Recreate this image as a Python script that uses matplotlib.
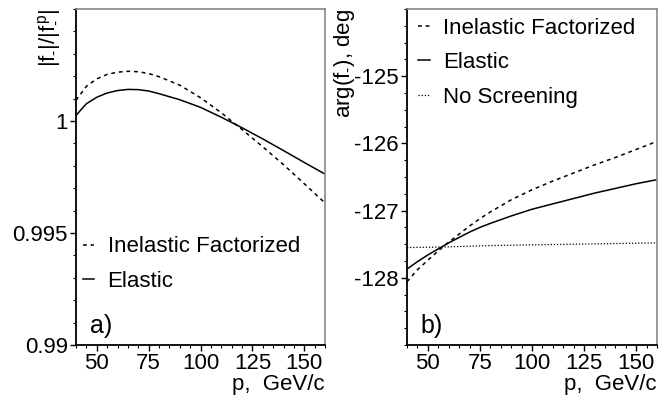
import numpy as np
import matplotlib
matplotlib.use("Agg")
import matplotlib.pyplot as plt
from matplotlib.ticker import MultipleLocator, FixedLocator

plt.rcParams['font.family'] = ['Liberation Sans', 'DejaVu Sans']
plt.rcParams['mathtext.fontset'] = 'custom'
plt.rcParams['mathtext.rm'] = 'Liberation Sans'
plt.rcParams['mathtext.it'] = 'Liberation Sans'

# panel a) |f_-|/|f^p_-|
p_a = [40, 45, 50, 55, 60, 65, 70, 75, 80, 90, 100, 110, 120, 130, 140, 150, 160]
elastic_a = [1.00025, 1.00077, 1.00106, 1.00125, 1.00136, 1.00141, 1.00140, 1.00134, 1.00122,
             1.00095, 1.00061, 1.00017, 0.99970, 0.99920, 0.99868, 0.99815, 0.99763]
inel_a = [1.00092, 1.00155, 1.00188, 1.00208, 1.00218, 1.00222, 1.00220, 1.00212, 1.00198,
          1.00160, 1.00104, 1.00037, 0.99962, 0.99885, 0.99805, 0.99720, 0.99634]

# panel b) arg(f_-), deg
p_b = [40, 45, 50, 55, 60, 65, 70, 75, 80, 90, 100, 110, 120, 130, 140, 150, 160]
elastic_b = [-127.87, -127.76, -127.66, -127.57, -127.48, -127.40, -127.32, -127.25, -127.19,
             -127.08, -126.98, -126.90, -126.82, -126.74, -126.67, -126.60, -126.54]
inel_b = [-128.06, -127.88, -127.74, -127.60, -127.47, -127.35, -127.23, -127.12, -127.02,
          -126.84, -126.69, -126.56, -126.44, -126.32, -126.21, -126.09, -125.97]
p_ns = [40, 60, 80, 100, 120, 140, 160]
noscr_b = [-127.55, -127.54, -127.52, -127.51, -127.50, -127.49, -127.48]

fs = 16
fig = plt.figure(figsize=(6.71, 3.96), dpi=100)
ax1 = fig.add_axes([76/671, 51/396, 249/671, 336/396])
ax2 = fig.add_axes([407/671, 51/396, 250/671, 336/396])

dash = (0, (2.5, 2.5))
dot = (0, (1, 1.5))

ax1.plot(p_a, inel_a, color='black', lw=1.1, linestyle=dash, label='Inelastic Factorized')
ax1.plot(p_a, elastic_a, color='black', lw=1.1, label='Elastic')

ax2.plot(p_b, inel_b, color='black', lw=1.1, linestyle=dash, label='Inelastic Factorized')
ax2.plot(p_b, elastic_b, color='black', lw=1.1, label='Elastic')
ax2.plot(p_ns, noscr_b, color='black', lw=0.9, linestyle=dot, label='No Screening')

ax1.set_xlim(40, 160)
ax1.set_ylim(0.99, 1.005)
ax1.yaxis.set_major_locator(FixedLocator([0.99, 0.995, 1.0]))
ax1.set_yticklabels(['0.99', '0.995', '1'])
ax1.yaxis.set_minor_locator(MultipleLocator(0.001))

ax2.set_xlim(40, 160)
ax2.set_ylim(-129, -124)
ax2.yaxis.set_major_locator(FixedLocator([-128, -127, -126, -125]))
ax2.set_yticklabels(['-128', '-127', '-126', '-125'])
ax2.yaxis.set_minor_locator(MultipleLocator(0.25))

for ax in (ax1, ax2):
    ax.xaxis.set_major_locator(FixedLocator([50, 75, 100, 125, 150]))
    ax.xaxis.set_minor_locator(MultipleLocator(5))
    ax.tick_params(which='major', direction='out', length=4, width=1, labelsize=fs, pad=2)
    ax.tick_params(which='minor', direction='out', length=2, width=0.8)
    ax.spines['left'].set_linewidth(1.3)
    ax.spines['bottom'].set_linewidth(1.3)
    for s in ('top', 'right'):
        ax.spines[s].set_color('#888888')
        ax.spines[s].set_linewidth(1.2)
    ax.set_xlabel('p,  GeV/c', fontsize=fs, loc='right', labelpad=0)

ax1.set_ylabel(r'$|f_{\text{-}}|/|f^{p}_{\text{-}}|$', fontsize=fs, loc='top')
ax1.yaxis.set_label_coords(-0.056, 1.0)
ax2.set_ylabel(r'arg(f$_{\text{-}}$), deg', fontsize=fs, loc='top')
ax2.yaxis.set_label_coords(-0.20, 1.0)

ax1.legend(loc='upper left', bbox_to_anchor=(-0.007, 0.35), frameon=False, fontsize=fs,
           handlelength=0.5, handletextpad=0.6, labelspacing=0.6, borderaxespad=0)
ax2.legend(loc='upper left', bbox_to_anchor=(0.01, 1.0), frameon=False, fontsize=fs,
           handlelength=0.5, handletextpad=0.6, labelspacing=0.6, borderaxespad=0)

ax1.text(0.055, 0.035, 'a)', transform=ax1.transAxes, fontsize=18)
ax2.text(0.055, 0.035, 'b)', transform=ax2.transAxes, fontsize=18)

fig.savefig('out.png', dpi=100)
